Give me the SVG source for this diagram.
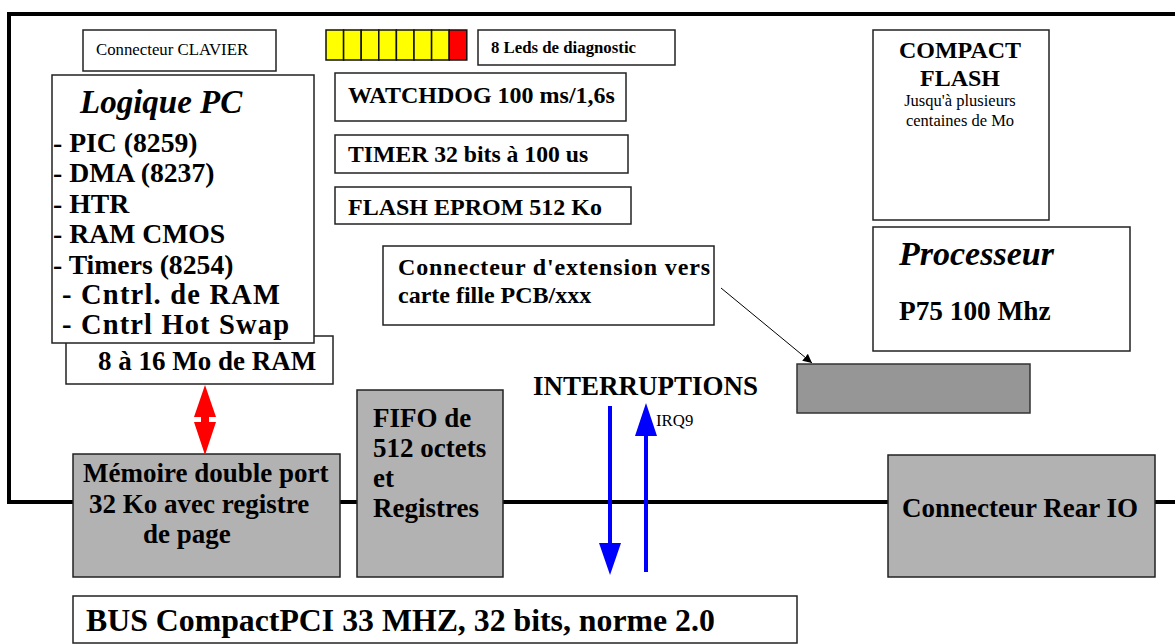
<svg xmlns="http://www.w3.org/2000/svg" width="1175" height="644" viewBox="0 0 1175 644">
<style>
text{font-family:"Liberation Serif","Times New Roman",serif;fill:#000}
.b{font-weight:bold}
.bi{font-weight:bold;font-style:italic}
.box{fill:#fff;stroke:#222;stroke-width:1.5}
.g{fill:#b2b2b2;stroke:#222;stroke-width:1.5}
.g2{fill:#969696;stroke:#333;stroke-width:1.5}
.led{fill:#ffff00;stroke:#111;stroke-width:1.5}
</style>
<defs>
<marker id="ah" viewBox="0 0 10 10" refX="10" refY="5" markerWidth="9" markerHeight="9" orient="auto" markerUnits="userSpaceOnUse"><path d="M0,0 L10,5 L0,10 z" fill="#000"/></marker>
</defs>
<g id="board"><path d="M1180,14 H9 V502 H1180" fill="none" stroke="#000" stroke-width="4"/></g>
<g id="clavier"><rect class="box" x="83" y="30" width="193" height="41"/><text x="96" y="55" font-size="16.8">Connecteur CLAVIER</text></g>
<g id="leds">
<rect class="led" x="326" y="30" width="17.6" height="30"/><rect class="led" x="343.6" y="30" width="17.6" height="30"/><rect class="led" x="361.2" y="30" width="17.6" height="30"/><rect class="led" x="378.8" y="30" width="17.6" height="30"/><rect class="led" x="396.4" y="30" width="17.6" height="30"/><rect class="led" x="414" y="30" width="17.6" height="30"/><rect class="led" x="431.6" y="30" width="17.6" height="30"/><rect x="449.2" y="30" width="17.6" height="30" fill="#ff0000" stroke="#111" stroke-width="1.5"/>
</g>
<g id="leds-label"><rect class="box" x="478" y="30" width="197" height="35"/><text class="b" x="491" y="53" font-size="16.8">8 Leds de diagnostic</text></g>
<g id="ram"><rect class="box" x="66" y="336" width="267" height="48"/><text class="b" x="98" y="370" font-size="27">8 à 16 Mo de RAM</text></g>
<g id="logique">
<rect class="box" x="52" y="75" width="262" height="268"/>
<text class="bi" x="80" y="113" font-size="33">Logique PC</text>
<text class="b" x="53" y="152" font-size="27.7">- PIC (8259)</text>
<text class="b" x="53" y="182" font-size="27.7">- DMA (8237)</text>
<text class="b" x="53" y="213" font-size="27.7">- HTR</text>
<text class="b" x="53" y="243" font-size="27.7">- RAM CMOS</text>
<text class="b" x="53" y="274" font-size="27.7">- Timers (8254)</text>
<text class="b" x="62" y="304" font-size="28.5" textLength="218" lengthAdjust="spacing">- Cntrl. de RAM</text>
<text class="b" x="62" y="334" font-size="28.5" textLength="227" lengthAdjust="spacing">- Cntrl Hot Swap</text>
</g>
<g id="watchdog"><rect class="box" x="335" y="73" width="291" height="48"/><text class="b" x="348" y="103" font-size="24">WATCHDOG 100 ms/1,6s</text></g>
<g id="timer"><rect class="box" x="335" y="135" width="293" height="38"/><text class="b" x="348" y="162" font-size="23.7">TIMER 32 bits à 100 us</text></g>
<g id="flash"><rect class="box" x="335" y="187" width="296" height="37"/><text class="b" x="348" y="215" font-size="24">FLASH EPROM 512 Ko</text></g>
<g id="ext"><rect class="box" x="383" y="246" width="331" height="79"/><text class="b" x="398" y="275" font-size="24" textLength="312" lengthAdjust="spacing">Connecteur d'extension vers</text><text class="b" x="398" y="303" font-size="24">carte fille PCB/xxx</text></g>
<g id="compactflash"><rect class="box" x="873" y="30" width="176" height="190"/>
<text class="b" x="960" y="58" font-size="24" text-anchor="middle">COMPACT</text>
<text class="b" x="960" y="86" font-size="24" text-anchor="middle">FLASH</text>
<text x="960" y="106" font-size="16.5" text-anchor="middle">Jusqu'à plusieurs</text>
<text x="960" y="126" font-size="16.5" text-anchor="middle">centaines de Mo</text>
</g>
<g id="processeur"><rect class="box" x="873" y="227" width="257" height="124"/><text class="bi" x="899" y="265" font-size="34">Processeur</text><text class="b" x="899" y="320" font-size="27.3">P75 100 Mhz</text></g>
<g id="ext-conn"><rect class="g2" x="797" y="364" width="233" height="49"/></g>
<g id="interruptions"><text class="b" x="533" y="395" font-size="27">INTERRUPTIONS</text><text x="656" y="426" font-size="16.8">IRQ9</text></g>
<g id="memoire"><rect class="g" x="73" y="454" width="267" height="123"/>
<text class="b" x="83" y="482" font-size="27">Mémoire double port</text>
<text class="b" x="89" y="513" font-size="27">32 Ko avec registre</text>
<text class="b" x="143" y="543" font-size="27">de page</text>
</g>
<g id="fifo"><rect class="g" x="357" y="390" width="146" height="187"/>
<text class="b" x="373" y="427" font-size="27">FIFO de</text>
<text class="b" x="373" y="457" font-size="27">512 octets</text>
<text class="b" x="373" y="487" font-size="27">et</text>
<text class="b" x="373" y="517" font-size="27">Registres</text>
</g>
<g id="rear"><rect class="g" x="888" y="455" width="267" height="122"/><text class="b" x="902" y="517" font-size="27">Connecteur Rear IO</text></g>
<g id="bus"><rect class="box" x="73" y="596" width="724" height="47"/><text class="b" x="86" y="631" font-size="31.8">BUS CompactPCI 33 MHZ, 32 bits, norme 2.0</text></g>
<g id="connectors">
<line x1="721" y1="288" x2="812" y2="363" stroke="#000" stroke-width="1" marker-end="url(#ah)"/>
<polygon points="205,385 216,417 209,417 209,422 216,422 205,455 194,422 201,422 201,417 194,417" fill="#ff0000"/>
<line x1="610" y1="406" x2="610" y2="545" stroke="#0000ff" stroke-width="4"/>
<polygon points="599,543 621,543 610,575" fill="#0000ff"/>
<line x1="646" y1="572" x2="646" y2="434" stroke="#0000ff" stroke-width="4"/>
<polygon points="635,436 657,436 646,403" fill="#0000ff"/>
</g>
</svg>
